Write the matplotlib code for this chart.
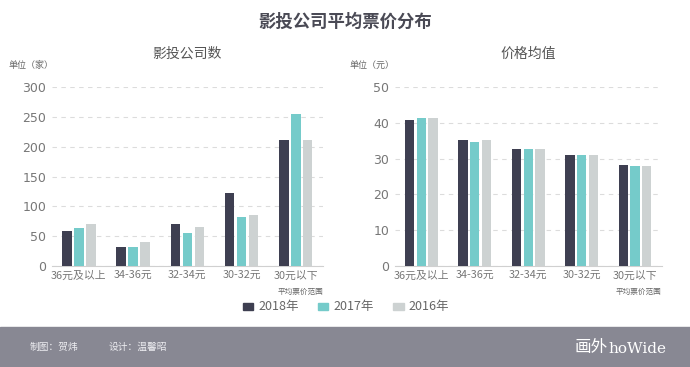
import matplotlib.pyplot as plt
import numpy as np
from matplotlib.patches import Rectangle

plt.rcParams['font.family'] = ['Noto Sans CJK SC', 'DejaVu Sans']

categories = ['36元及以上', '34-36元', '32-34元', '30-32元', '30元以下']
years = ['2018年', '2017年', '2016年']
colors = ['#3e3f51', '#75cbca', '#cdd2d2']

# 影投公司数
companies = [
    [58, 32, 70, 122, 211],   # 2018
    [63, 32, 55, 83, 255],    # 2017
    [70, 40, 65, 85, 211],    # 2016
]
# 价格均值
prices = [
    [40.8, 35.2, 32.8, 30.9, 28.3],
    [41.4, 34.7, 32.8, 30.9, 27.9],
    [41.4, 35.2, 32.8, 30.9, 27.9],
]

fig = plt.figure(figsize=(6.9, 3.67), dpi=100)
fig.patch.set_facecolor('white')

fig.text(0.5, 0.94, '影投公司平均票价分布', ha='center', va='center',
         fontsize=12.5, fontweight='bold', color='#4a4a55')

axes_specs = [
    ([0.075, 0.275, 0.393, 0.488], companies, 300, 50, '影投公司数', '单位（家）', 0.012),
    ([0.572, 0.275, 0.387, 0.488], prices, 50, 10, '价格均值', '单位（元）', 0.507),
]

x = np.arange(len(categories))
w = 0.175
off = 0.22

for rect, data, ymax, step, title, unit, ux in axes_specs:
    ax = fig.add_axes(rect)
    for i, vals in enumerate(data):
        ax.bar(x + (i - 1) * off, vals, width=w, color=colors[i], zorder=3)
    ax.set_xlim(-0.5, len(categories) - 0.5)
    ax.set_ylim(0, ymax)
    ax.set_yticks(np.arange(0, ymax + 1, step))
    ax.set_xticks(x)
    ax.set_xticklabels(categories)
    ax.yaxis.grid(True, linestyle=(0, (4, 4)), color='#dcdcdc', linewidth=0.8, zorder=0)
    for s in ['top', 'right', 'left']:
        ax.spines[s].set_visible(False)
    ax.spines['bottom'].set_color('#d0d0d0')
    ax.tick_params(axis='both', length=0, colors='#777777')
    ax.tick_params(axis='x', labelsize=7.8, pad=3)
    ax.tick_params(axis='y', pad=4)
    for t in ax.get_yticklabels():
        t.set_family('DejaVu Sans')
        t.set_fontsize(9)
    ax.set_title(title, fontsize=10, color='#555555', pad=21)
    fig.text(ux, 0.822, unit, fontsize=6.5, color='#666666', va='center')
    ax.text(1.0, -0.145, '平均票价范围', transform=ax.transAxes, ha='right',
            va='center', fontsize=5.5, color='#666666')

# legend
lx = [0.352, 0.461, 0.570]
for i, yr in enumerate(years):
    fig.patches.append(Rectangle((lx[i], 0.155), 0.015, 0.019, transform=fig.transFigure,
                                 color=colors[i], figure=fig))
    fig.text(lx[i] + 0.022, 0.164, yr, fontsize=9, color='#666666', va='center')

# footer
fig.patches.append(Rectangle((0, 0), 1, 0.109, transform=fig.transFigure,
                             color='#888893', figure=fig, zorder=0))
fig.text(0.043, 0.054, '制图：贺炜', fontsize=7, color='#eeeef2', va='center')
fig.text(0.157, 0.054, '设计：温馨昭', fontsize=7, color='#eeeef2', va='center')
fig.text(0.832, 0.052, '画外', fontsize=12, color='white', va='center')
fig.text(0.882, 0.050, 'hoWide', fontsize=11, color='white', va='center', family='DejaVu Serif')

fig.savefig('out.png', dpi=100, facecolor='white')
